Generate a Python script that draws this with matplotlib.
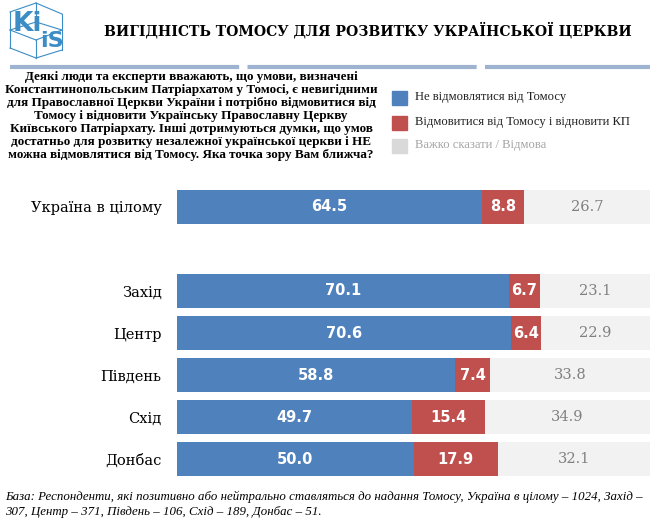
import matplotlib
matplotlib.use('Agg')
import matplotlib.pyplot as plt
from matplotlib.patches import Rectangle
from matplotlib.lines import Line2D

categories = ['Україна в цілому', 'Захід', 'Центр', 'Південь', 'Схід', 'Донбас']
keep_tomos = [64.5, 70.1, 70.6, 58.8, 49.7, 50.0]
restore_kp = [8.8, 6.7, 6.4, 7.4, 15.4, 17.9]
hard_to_say = [26.7, 23.1, 22.9, 33.8, 34.9, 32.1]
legend_labels = ['Не відмовлятися від Томосу',
                 'Відмовитися від Томосу і відновити КП',
                 'Важко сказати / Відмова']

title = 'ВИГІДНІСТЬ ТОМОСУ ДЛЯ РОЗВИТКУ УКРАЇНСЬКОЇ ЦЕРКВИ'
question = ('Деякі люди та експерти вважають, що умови, визначені\n'
            'Константинопольським Патріархатом у Томосі, є невигідними\n'
            'для Православної Церкви України і потрібно відмовитися від\n'
            'Томосу і відновити Українську Православну Церкву\n'
            'Київського Патріархату. Інші дотримуються думки, що умов\n'
            'достатньо для розвитку незалежної української церкви і НЕ\n'
            'можна відмовлятися від Томосу. Яка точка зору Вам ближча?')
footnote = ('База: Респонденти, які позитивно або нейтрально ставляться до надання Томосу, Україна в цілому – 1024, Захід –\n'
            '307, Центр – 371, Південь – 106, Схід – 189, Донбас – 51.')

BLUE = '#4F81BD'
RED = '#C0504D'
GRAY = '#F2F2F2'
W, H = 650, 519

fig = plt.figure(figsize=(6.5, 5.19), dpi=100)
renderer = fig.canvas.get_renderer()


def fx(px):
    return px / W


def fy(py):
    return 1 - py / H


def fit_block(t, target_w, target_h=None, spacing=1.2):
    # scale font to target width, then squeeze/stretch line spacing to target height
    bb = t.get_window_extent(renderer=renderer)
    t.set_fontsize(t.get_fontsize() * target_w / bb.width)
    if target_h:
        bb = t.get_window_extent(renderer=renderer)
        t.set_linespacing(spacing * target_h / bb.height)


# logo (rough cube with letters)
lc = '#3C8DC5'
cube = [((10, 12), (36, 3)), ((36, 3), (62, 14)), ((10, 12), (10, 48)), ((62, 14), (62, 50)),
        ((10, 48), (36, 58)), ((36, 58), (62, 50)), ((36, 3), (36, 22)), ((36, 22), (10, 30)),
        ((36, 22), (62, 30)), ((36, 40), (36, 58)), ((10, 30), (36, 40)), ((36, 40), (62, 30))]
for (x0, y0), (x1, y1) in cube:
    fig.add_artist(Line2D([fx(x0), fx(x1)], [fy(y0), fy(y1)], color=lc, lw=0.8))
fig.text(fx(13), fy(24), 'Ki', color=lc, fontsize=19, fontweight='bold', ha='left', va='center')
fig.text(fx(40), fy(41), 'iS', color=lc, fontsize=16, fontweight='bold', ha='left', va='center')

t = fig.text(fx(104), fy(30), title, fontsize=11, fontweight='bold', ha='left', va='center',
             family='DejaVu Serif')
fit_block(t, 526)

# separator line
fig.add_artist(Line2D([fx(10), fx(650)], [fy(67), fy(67)], color='#9DB3CF', lw=3,
                      linestyle=(0, (55, 2))))

t = fig.text(fx(191), fy(116), question, fontsize=9, fontweight='bold', ha='center', va='center',
             family='Liberation Serif', linespacing=1.2)
fit_block(t, 372, 88, 1.2)

# legend
leg_y = [98, 123, 146]
leg_col = [BLUE, RED, '#D9D9D9']
leg_txt = ['#222222', '#222222', '#A6A6A6']
for i, (y, c, tc, lab) in enumerate(zip(leg_y, leg_col, leg_txt, legend_labels)):
    fig.add_artist(Rectangle((fx(392), fy(y + 7)), 15 / W, 14 / H, color=c, transform=fig.transFigure))
    t = fig.text(fx(415), fy(y - 1), lab, fontsize=8, color=tc, ha='left', va='center',
                 family='Liberation Serif')
    if i == 1:
        fit_block(t, 215)
        leg_fs = t.get_fontsize()
for t in fig.texts[-3:]:
    t.set_fontsize(leg_fs)

# bars
row_pos = [0, 2, 3, 4, 5, 6]
ax = fig.add_axes([fx(177), fy(480), fx(650) - fx(177), (480 - 186) / H])
h = 0.83
ax.barh(row_pos, keep_tomos, height=h, color=BLUE)
ax.barh(row_pos, restore_kp, left=keep_tomos, height=h, color=RED)
left3 = [a + b for a, b in zip(keep_tomos, restore_kp)]
ax.barh(row_pos, hard_to_say, left=left3, height=h, color=GRAY)
for y, a, b, c in zip(row_pos, keep_tomos, restore_kp, hard_to_say):
    ax.text(a / 2, y, f'{a:.1f}', color='white', fontsize=10.5, fontweight='bold', ha='center', va='center')
    ax.text(a + b / 2, y, f'{b:.1f}', color='white', fontsize=10.5, fontweight='bold', ha='center', va='center')
    ax.text(a + b + c / 2, y, f'{c:.1f}', color='#808080', fontsize=10.5, ha='center', va='center',
            family='DejaVu Serif')
ax.set_xlim(0, 100)
ax.set_ylim(6.5, -0.5)
ax.set_yticks(row_pos)
ax.set_yticklabels(categories, fontsize=10.5, family='DejaVu Serif')
ax.tick_params(axis='y', length=0, pad=11)
ax.set_xticks([])
for s in ax.spines.values():
    s.set_visible(False)

t = fig.text(fx(5), fy(504), footnote, fontsize=8, style='italic', ha='left', va='center',
             family='Liberation Serif', linespacing=1.35)
fit_block(t, 640)

fig.savefig('out.png', dpi=100)
